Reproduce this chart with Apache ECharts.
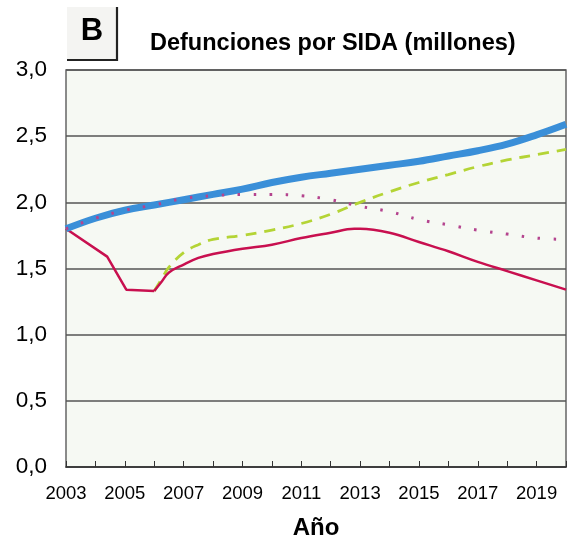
<!DOCTYPE html>
<html><head><meta charset="utf-8">
<script src="https://cdn.jsdelivr.net/npm/echarts@6/dist/echarts.min.js"></script>
<style>html,body{margin:0;padding:0;background:#fff}#c{width:574px;height:552px}</style>
</head><body><div id="c"></div>
<script>
const titleText = 'Defunciones por SIDA (millones)';
const panelLetter = 'B';
const xAxisName = 'Año';

const blueYears  = [2003,2004,2005,2006,2007,2008,2009,2010,2011,2012,2013,2014,2015,2016,2017,2018,2019,2020];
const blueValues = [1.80,1.88,1.94,1.98,2.02,2.06,2.10,2.15,2.19,2.22,2.25,2.28,2.31,2.35,2.39,2.44,2.51,2.59];

const dotYears  = [2003,2004,2005,2006,2007,2008,2009,2010,2011,2012,2013,2014,2015,2016,2017,2018,2019,2020];
const dotValues = [1.80,1.88,1.94,1.98,2.03,2.05,2.06,2.06,2.05,2.02,1.97,1.93,1.87,1.83,1.79,1.76,1.73,1.72];

const greenYears  = [2006,2006.25,2006.5,2007,2007.5,2008,2009,2010,2011,2012,2013,2014,2015,2016,2017,2018,2019,2020];
const greenValues = [1.33,1.42,1.51,1.62,1.68,1.72,1.75,1.79,1.84,1.91,2.00,2.08,2.15,2.21,2.27,2.32,2.36,2.40];

const redYears  = [2003,2004.4,2005.05,2006,2006.25,2006.5,2007,2007.5,2008,2009,2010,2011,2012,2012.8,2013,2014,2015,2016,2017,2018,2019,2020];
const redValues = [1.80,1.59,1.34,1.33,1.40,1.47,1.53,1.58,1.61,1.65,1.68,1.73,1.77,1.80,1.80,1.77,1.70,1.63,1.55,1.48,1.41,1.34];
const redCornerCount = 4; // first points joined by straight segments

const pairs = (xs, ys) => xs.map((x, i) => [x, ys[i]]);
const redPairs = pairs(redYears, redValues);

const font = "'Liberation Sans', Arial, Helvetica, sans-serif";
const chart = echarts.init(document.getElementById('c'), null, {renderer: 'canvas'});
chart.setOption({
  animation: false,
  backgroundColor: '#fff',
  title: {
    text: titleText, left: 145, top: 27,
    textStyle: {fontFamily: font, fontWeight: 'bold', fontSize: 23.5, color: '#000'}
  },
  graphic: [
    {type: 'rect', shape: {x: 67, y: 7, width: 50, height: 53}, style: {fill: '#f4f4f2', stroke: null}},
    {type: 'polyline', shape: {points: [[117, 7], [117, 60], [67, 60]]}, style: {stroke: '#222', lineWidth: 2.2, fill: null}},
    {type: 'text', x: 92, y: 31, style: {text: panelLetter, fontFamily: font, fontWeight: 'bold', fontSize: 31, fill: '#000', align: 'center', verticalAlign: 'middle'}}
  ],
  grid: {left: 66, right: 8, top: 70, bottom: 85, show: true, backgroundColor: '#f6f9f3', borderColor: '#666', borderWidth: 1.5},
  xAxis: {
    type: 'value', min: 2003, max: 2020, interval: 1,
    name: xAxisName, nameLocation: 'middle', nameGap: 49,
    nameTextStyle: {fontFamily: font, fontWeight: 'bold', fontSize: 24, color: '#000'},
    axisLine: {show: true, lineStyle: {color: '#333', width: 1.5}},
    axisTick: {show: true, inside: true, length: 6, lineStyle: {color: '#333', width: 1}},
    axisLabel: {
      fontFamily: font, fontSize: 18.5, color: '#000', margin: 17,
      showMinLabel: true, showMaxLabel: true,
      formatter: v => ((Math.round(v) - 2003) % 2 === 0 ? String(Math.round(v)) : '')
    },
    splitLine: {show: false}
  },
  yAxis: {
    type: 'value', min: 0, max: 3, interval: 0.5,
    axisLine: {show: false},
    axisTick: {show: false},
    axisLabel: {
      fontFamily: font, fontSize: 22.5, color: '#000', margin: 19,
      formatter: v => v.toFixed(1).replace('.', ',')
    },
    splitLine: {show: true, lineStyle: {color: '#555', width: 1.5}}
  },
  series: [
    {type: 'line', name: 'green', data: pairs(greenYears, greenValues), smooth: 0.4, symbol: 'none',
     lineStyle: {color: '#b4d435', width: 2.8, type: [11, 8]}, z: 2},
    {type: 'line', name: 'red-a', data: redPairs.slice(0, redCornerCount), smooth: false, symbol: 'none',
     lineStyle: {color: '#c8104f', width: 2.5}, z: 3},
    {type: 'line', name: 'red-b', data: redPairs.slice(redCornerCount - 1), smooth: 0.4, symbol: 'none',
     lineStyle: {color: '#c8104f', width: 2.5}, z: 3},
    {type: 'line', name: 'blue', data: pairs(blueYears, blueValues), smooth: 0.4, symbol: 'none',
     lineStyle: {color: '#3a8fd8', width: 7}, z: 4},
    {type: 'line', name: 'dotted', data: pairs(dotYears, dotValues), smooth: 0.4, symbol: 'none',
     lineStyle: {color: '#b4448e', width: 3, type: [2.5, 13.5]}, z: 5}
  ]
});
</script></body></html>
